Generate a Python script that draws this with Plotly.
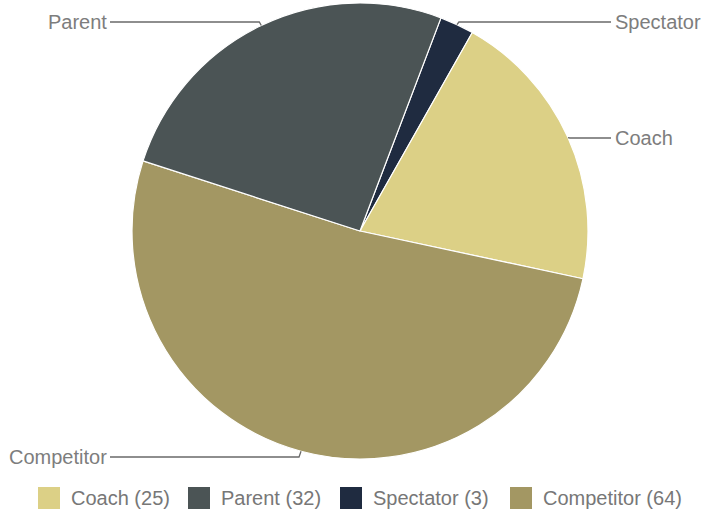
import math
import plotly.graph_objects as go

# Participant roles and their counts
categories = ["Coach", "Parent", "Spectator", "Competitor"]
counts = [25, 32, 3, 64]
colors = ["#dcd086", "#4b5455", "#1f2b40", "#a39763"]
# clockwise drawing order of the slices, starting at the top
slice_order = ["Spectator", "Coach", "Competitor", "Parent"]

# page geometry (pixels)
W, H = 702, 512
CX, CY, R = 360, 231, 228
START = 20.8

LABEL_FONT = dict(family="Liberation Sans, Arial, sans-serif", size=20, color="#7d7d7d")
LEGEND_FONT = dict(family="Liberation Sans, Arial, sans-serif", size=20, color="#777777")
LINE_COLOR = "#6a6a6a"

# label rows and legend item positions (pixels)
label_rows = {"Parent": 22, "Spectator": 22, "Coach": 138, "Competitor": 457}
LEFT_TEXT_END, LEFT_LINE_START = 107, 110
RIGHT_TEXT_START, RIGHT_LINE_END = 615, 611
legend_x = [38, 188, 340, 510]
LEGEND_Y, SWATCH = 498, 22


def px(x):
    return x / W


def py(y):
    return 1 - y / H


idx = [categories.index(c) for c in slice_order]

fig = go.Figure(go.Pie(
    labels=[categories[i] for i in idx],
    values=[counts[i] for i in idx],
    marker=dict(colors=[colors[i] for i in idx], line=dict(color="white", width=1.2)),
    sort=False,
    direction="clockwise",
    rotation=START,
    textinfo="none",
    hoverinfo="label+value+percent",
    domain=dict(x=[px(CX - R), px(CX + R)], y=[py(CY + R), py(CY - R)]),
    showlegend=False,
))

shapes = []
annotations = []

# slice labels with leader lines from each slice's mid-angle
total = sum(counts)
angle = START
for i in idx:
    name = categories[i]
    span = 360.0 * counts[i] / total
    mid = math.radians(angle + span / 2)
    angle += span
    ax = CX + R * math.sin(mid)
    ay = CY - R * math.cos(mid)
    ly = label_rows[name]
    if ax < CX:
        path = (f"M {px(LEFT_LINE_START)} {py(ly)} L {px(ax - 2)} {py(ly)} "
                f"L {px(ax)} {py(ay)}")
        annotations.append(dict(x=px(LEFT_TEXT_END), y=py(ly), xref="paper", yref="paper",
                                text=name, showarrow=False, xanchor="right", yanchor="middle",
                                font=LABEL_FONT, borderpad=0, borderwidth=0))
    else:
        path = (f"M {px(ax)} {py(ay)} L {px(ax + 2)} {py(ly)} "
                f"L {px(RIGHT_LINE_END)} {py(ly)}")
        annotations.append(dict(x=px(RIGHT_TEXT_START), y=py(ly), xref="paper", yref="paper",
                                text=name, showarrow=False, xanchor="left", yanchor="middle",
                                font=LABEL_FONT, borderpad=0, borderwidth=0))
    shapes.append(dict(type="path", xref="paper", yref="paper", path=path,
                       line=dict(color=LINE_COLOR, width=1.3)))

# legend row: swatch plus "Name (count)"
for k, (name, n, col) in enumerate(zip(categories, counts, colors)):
    x0 = legend_x[k]
    shapes.append(dict(type="rect", xref="paper", yref="paper",
                       x0=px(x0), x1=px(x0 + SWATCH),
                       y0=py(LEGEND_Y + SWATCH / 2), y1=py(LEGEND_Y - SWATCH / 2),
                       fillcolor=col, line=dict(width=0)))
    annotations.append(dict(x=px(x0 + SWATCH + 11), y=py(LEGEND_Y), xref="paper", yref="paper",
                            text=f"{name} ({n})", showarrow=False, xanchor="left",
                            yanchor="middle", font=LEGEND_FONT, borderpad=0, borderwidth=0))

fig.update_layout(
    width=W, height=H,
    margin=dict(l=0, r=0, t=0, b=0),
    paper_bgcolor="white",
    plot_bgcolor="white",
    shapes=shapes,
    annotations=annotations,
)

fig.write_html("out.html")
